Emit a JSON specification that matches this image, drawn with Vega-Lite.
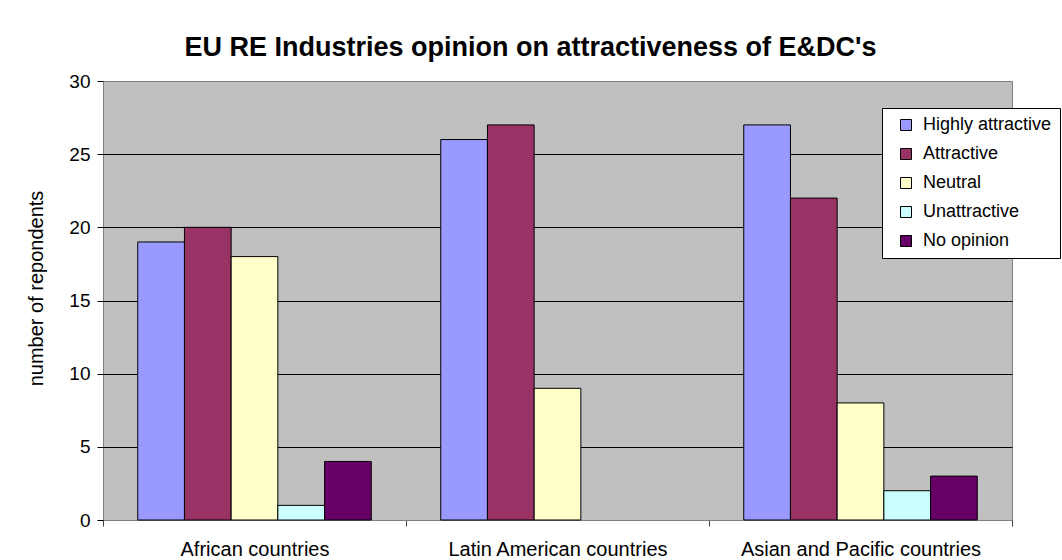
{
  "$schema": "https://vega.github.io/schema/vega-lite/v6.json",
  "width": 909,
  "height": 439,
  "autosize": {"type": "none"},
  "padding": {"left": 103, "top": 81, "right": 50, "bottom": 40},
  "background": "white",
  "title": {
    "text": "EU RE Industries opinion on attractiveness of E&DC's",
    "fontSize": 27,
    "fontWeight": "bold",
    "color": "black",
    "anchor": "middle",
    "frame": "group",
    "dx": -27,
    "offset": 10
  },
  "config": {
    "font": "Liberation Sans",
    "view": {"fill": "#C0C0C0", "stroke": "#808080", "strokeWidth": 1}
  },
  "data": {
    "values": [
      {"region": "African countries", "opinion": "Highly attractive", "count": 19},
      {"region": "African countries", "opinion": "Attractive", "count": 20},
      {"region": "African countries", "opinion": "Neutral", "count": 18},
      {"region": "African countries", "opinion": "Unattractive", "count": 1},
      {"region": "African countries", "opinion": "No opinion", "count": 4},
      {"region": "Latin American countries", "opinion": "Highly attractive", "count": 26},
      {"region": "Latin American countries", "opinion": "Attractive", "count": 27},
      {"region": "Latin American countries", "opinion": "Neutral", "count": 9},
      {"region": "Asian and Pacific countries", "opinion": "Highly attractive", "count": 27},
      {"region": "Asian and Pacific countries", "opinion": "Attractive", "count": 22},
      {"region": "Asian and Pacific countries", "opinion": "Neutral", "count": 8},
      {"region": "Asian and Pacific countries", "opinion": "Unattractive", "count": 2},
      {"region": "Asian and Pacific countries", "opinion": "No opinion", "count": 3}
    ]
  },
  "mark": {"type": "bar", "stroke": "black", "strokeWidth": 1},
  "encoding": {
    "x": {
      "field": "region",
      "type": "nominal",
      "sort": ["African countries", "Latin American countries", "Asian and Pacific countries"],
      "scale": {"paddingInner": 0, "paddingOuter": 0},
      "axis": {
        "title": null,
        "labelAngle": 0,
        "labelFontSize": 20,
        "labelColor": "black",
        "labelLimit": 0,
        "tickBand": "extent",
        "tickSize": 6,
        "tickColor": "#404040",
        "domainColor": "#808080",
        "labelPadding": 13,
        "grid": false
      }
    },
    "xOffset": {
      "field": "opinion",
      "type": "nominal",
      "sort": ["Highly attractive", "Attractive", "Neutral", "Unattractive", "No opinion"],
      "scale": {"paddingInner": 0, "paddingOuter": 0.744}
    },
    "y": {
      "field": "count",
      "type": "quantitative",
      "scale": {"domain": [0, 30]},
      "axis": {
        "values": [0, 5, 10, 15, 20, 25, 30],
        "title": "number of repondents",
        "titleFontSize": 20,
        "titleFontWeight": "normal",
        "titleColor": "black",
        "titlePadding": 22,
        "titleY": 207,
        "labelFontSize": 19,
        "labelColor": "black",
        "labelPadding": 7,
        "tickSize": 6,
        "tickColor": "black",
        "domain": false,
        "grid": true,
        "gridColor": {"condition": {"test": "datum.value === 30", "value": "#808080"}, "value": "black"},
        "gridOpacity": 1
      }
    },
    "color": {
      "field": "opinion",
      "type": "nominal",
      "scale": {
        "domain": ["Highly attractive", "Attractive", "Neutral", "Unattractive", "No opinion"],
        "range": ["#9999FF", "#993366", "#FFFFCC", "#CCFFFF", "#660066"]
      },
      "legend": {
        "orient": "none",
        "legendX": 779,
        "legendY": 27,
        "title": null,
        "fillColor": "white",
        "strokeColor": "black",
        "padding": 8,
        "symbolType": "square",
        "symbolSize": 121,
        "symbolStrokeColor": "black",
        "symbolStrokeWidth": 1,
        "symbolOpacity": 1,
        "symbolOffset": 7,
        "labelOffset": 8,
        "labelFontSize": 18,
        "labelColor": "black",
        "labelLimit": 0,
        "rowPadding": 11
      }
    }
  }
}
